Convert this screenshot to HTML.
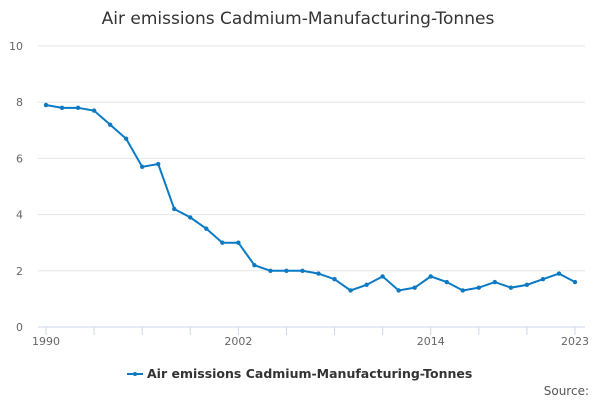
<!DOCTYPE html>
<html><head><meta charset="utf-8"><style>
body{margin:0;background:#fff;font-family:"Liberation Sans","DejaVu Sans",sans-serif;}
svg text{font-family:"DejaVu Sans","Liberation Sans",sans-serif;}
</style></head><body>
<svg id="chart" width="600" height="400" viewBox="0 0 600 400">
<text x="298" y="24" text-anchor="middle" font-size="17" fill="#333">Air emissions Cadmium-Manufacturing-Tonnes</text>
<g id="grid"></g><g id="xaxis"></g><g id="series"></g>
<g>
<line x1="127" y1="374" x2="143" y2="374" stroke="#0a7ac4" stroke-width="2"/>
<circle cx="135" cy="374" r="2" fill="#0a7ac4"/>
<text x="147" y="378" font-size="12.5" font-weight="bold" fill="#333">Air emissions Cadmium-Manufacturing-Tonnes</text>
</g>
<text x="589" y="395" text-anchor="end" font-size="12" fill="#555">Source:</text>
</svg>
<script>
const years=[];for(let y=1990;y<=2023;y++)years.push(y);
const values=[7.9,7.8,7.8,7.7,7.2,6.7,5.7,5.8,4.2,3.9,3.5,3.0,3.0,2.2,2.0,2.0,2.0,1.9,1.7,1.3,1.5,1.8,1.3,1.4,1.8,1.6,1.3,1.4,1.6,1.4,1.5,1.7,1.9,1.6];
const yTicks=[0,2,4,6,8,10];
const xLabels=[1990,2002,2014,2023];
const NS="http://www.w3.org/2000/svg";
const x0=46,x1=575,yb=327,yt=46;
const xs=y=>x0+(y-1990)*(x1-x0)/33;
const ys=v=>yb-v*(yb-yt)/10;
function mk(t,a,p){const e=document.createElementNS(NS,t);for(const k in a)e.setAttribute(k,a[k]);p.appendChild(e);return e;}
const g=document.getElementById('grid');
yTicks.forEach(v=>{
 const l=mk('line',{x1:38,x2:585,y1:ys(v),y2:ys(v),stroke:v===0?'#ccd6eb':'#e6e6e6','stroke-width':1},g);
 
 
 const t=mk('text',{x:23,y:ys(v)+4,'text-anchor':'end','font-size':11,fill:'#666'},g);t.textContent=v;
 
 
});
const xa=document.getElementById('xaxis');
for(let y=1990;y<=2023;y+=3){
 const l=mk('line',{x1:xs(y),x2:xs(y),y1:yb,y2:yb+8,stroke:'#ccd6eb'},xa);
 
 
}
mk('line',{x1:xs(2023),x2:xs(2023),y1:yb,y2:yb+8,stroke:'#ccd6eb'},xa);
xLabels.forEach(y=>{
 const t=mk('text',{x:xs(y),y:345,'text-anchor':'middle','font-size':11,fill:'#666'},xa);t.textContent=y;
 
 
});
const s=document.getElementById('series');
const p=mk('path',{d:values.map((v,i)=>(i?'L':'M')+xs(years[i])+' '+ys(v)).join(' '),fill:'none',stroke:'#0a7ac4','stroke-width':2},s);


values.forEach((v,i)=>{
 const c=mk('circle',{cx:xs(years[i]),cy:ys(v),r:2.2,fill:'#0a7ac4'},s);
 
 
});
</script>
</body></html>
